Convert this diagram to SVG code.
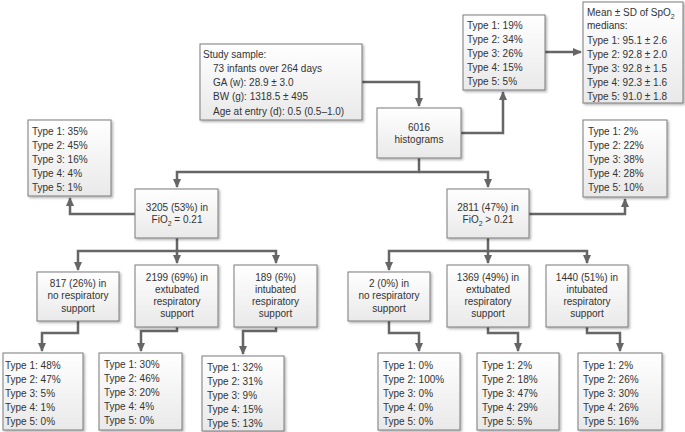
<svg xmlns="http://www.w3.org/2000/svg" width="685" height="432" viewBox="0 0 685 432">
<defs>
<linearGradient id="g" x1="0" y1="0" x2="0" y2="1">
<stop offset="0" stop-color="#ffffff"/>
<stop offset="1" stop-color="#e9e9e9"/>
</linearGradient>
<filter id="sh" x="-10%" y="-10%" width="130%" height="130%">
<feDropShadow dx="1.5" dy="1.5" stdDeviation="1" flood-color="#000" flood-opacity="0.3"/>
</filter>
<marker id="ar" markerUnits="userSpaceOnUse" markerWidth="9" markerHeight="9" refX="8" refY="4.5" orient="auto" viewBox="0 0 9 9">
<path d="M0,0.5 L9,4.5 L0,8.5 z" fill="#666"/>
</marker>
</defs>
<style>
.box{fill:url(#g);stroke:#7a7a7a;stroke-width:1;filter:url(#sh)}
text{font-family:"Liberation Sans",Arial,sans-serif;font-size:10px;fill:#333}
.c{text-anchor:middle}
.con path{fill:none;stroke:#666;stroke-width:2.5}
.sub{font-size:7px}
</style>
<g class="con" id="connectors">
<path d="M362,82 H419 V106" marker-end="url(#ar)"/>
<path d="M461,133 H503 V92" marker-end="url(#ar)"/>
<path d="M545,52 H581" marker-end="url(#ar)"/>
<path d="M419,158 V172 H177 V187" marker-end="url(#ar)"/>
<path d="M419,172 H488 V187" marker-end="url(#ar)"/>
<path d="M135,214 H70 V198" marker-end="url(#ar)"/>
<path d="M529,214 H625 V199" marker-end="url(#ar)"/>
<path d="M177,238 V251 H78 V270" marker-end="url(#ar)"/>
<path d="M177,251 V263" marker-end="url(#ar)"/>
<path d="M177,251 H276 V263" marker-end="url(#ar)"/>
<path d="M488,238 V251 H389 V270" marker-end="url(#ar)"/>
<path d="M488,251 V263" marker-end="url(#ar)"/>
<path d="M488,251 H587 V263" marker-end="url(#ar)"/>
<path d="M78,321 V333 H42 V351" marker-end="url(#ar)"/>
<path d="M177,327 V331 H141 V351" marker-end="url(#ar)"/>
<path d="M276,327 V331 H243 V354" marker-end="url(#ar)"/>
<path d="M389,321 V333 H419 V351" marker-end="url(#ar)"/>
<path d="M488,327 V333 H518 V351" marker-end="url(#ar)"/>
<path d="M587,327 V333 H620 V351" marker-end="url(#ar)"/>
</g>
<g id="study">
<rect class="box" x="200" y="44" width="162" height="76"/>
<text x="203" y="58">Study sample:</text>
<text x="213" y="72">73 infants over 264 days</text>
<text x="213" y="86">GA (w): 28.9 ± 3.0</text>
<text x="213" y="100">BW (g): 1318.5 ± 495</text>
<text x="213" y="115">Age at entry (d): 0.5 (0.5–1.0)</text>
</g>
<g id="hist">
<rect class="box" x="377" y="108" width="84" height="50"/>
<text class="c" x="419" y="131">6016</text>
<text class="c" x="419" y="143">histograms</text>
</g>
<g id="types-all">
<rect class="box" x="463" y="15" width="82" height="75"/>
<text x="467" y="29">Type 1: 19%</text>
<text x="467" y="43">Type 2: 34%</text>
<text x="467" y="57">Type 3: 26%</text>
<text x="467" y="71">Type 4: 15%</text>
<text x="467" y="85">Type 5: 5%</text>
</g>
<g id="means">
<rect class="box" x="583" y="2" width="100" height="101"/>
<text x="587" y="16">Mean ± SD of SpO<tspan class="sub" dy="2.5">2</tspan></text>
<text x="587" y="29">medians:</text>
<text x="587" y="44">Type 1: 95.1 ± 2.6</text>
<text x="587" y="58">Type 2: 92.8 ± 2.0</text>
<text x="587" y="72">Type 3: 92.8 ± 1.5</text>
<text x="587" y="86">Type 4: 92.3 ± 1.6</text>
<text x="587" y="100">Type 5: 91.0 ± 1.8</text>
</g>
<g id="types-air">
<rect class="box" x="28" y="120" width="83" height="76"/>
<text x="32" y="135">Type 1: 35%</text>
<text x="32" y="149">Type 2: 45%</text>
<text x="32" y="163">Type 3: 16%</text>
<text x="32" y="177">Type 4: 4%</text>
<text x="32" y="191">Type 5: 1%</text>
</g>
<g id="air">
<rect class="box" x="135" y="189" width="83" height="49"/>
<text class="c" x="177" y="211">3205 (53%) in</text>
<text class="c" x="177" y="223">FiO<tspan class="sub" dy="2.5">2</tspan><tspan dy="-2.5"> = 0.21</tspan></text>
</g>
<g id="oxy">
<rect class="box" x="447" y="189" width="82" height="49"/>
<text class="c" x="488" y="211">2811 (47%) in</text>
<text class="c" x="488" y="223">FiO<tspan class="sub" dy="2.5">2</tspan><tspan dy="-2.5"> &gt; 0.21</tspan></text>
</g>
<g id="types-oxy">
<rect class="box" x="583" y="120" width="84" height="77"/>
<text x="588" y="135">Type 1: 2%</text>
<text x="588" y="149">Type 2: 22%</text>
<text x="588" y="163">Type 3: 38%</text>
<text x="588" y="177">Type 4: 28%</text>
<text x="588" y="191">Type 5: 10%</text>
</g>
<g id="air-none">
<rect class="box" x="37" y="272" width="82" height="49"/>
<text class="c" x="78" y="286.5">817 (26%) in</text>
<text class="c" x="78" y="299">no respiratory</text>
<text class="c" x="78" y="311.5">support</text>
</g>
<g id="air-ext">
<rect class="box" x="135" y="265" width="83" height="62"/>
<text class="c" x="177" y="280.5">2199 (69%) in</text>
<text class="c" x="177" y="292.5">extubated</text>
<text class="c" x="177" y="304.5">respiratory</text>
<text class="c" x="177" y="316.5">support</text>
</g>
<g id="air-int">
<rect class="box" x="234" y="265" width="83" height="62"/>
<text class="c" x="275.5" y="280.5">189 (6%)</text>
<text class="c" x="275.5" y="292.5">intubated</text>
<text class="c" x="275.5" y="304.5">respiratory</text>
<text class="c" x="275.5" y="316.5">support</text>
</g>
<g id="oxy-none">
<rect class="box" x="348" y="272" width="82" height="49"/>
<text class="c" x="389" y="286.5">2 (0%) in</text>
<text class="c" x="389" y="299">no respiratory</text>
<text class="c" x="389" y="311.5">support</text>
</g>
<g id="oxy-ext">
<rect class="box" x="447" y="265" width="82" height="62"/>
<text class="c" x="488" y="280.5">1369 (49%) in</text>
<text class="c" x="488" y="292.5">extubated</text>
<text class="c" x="488" y="304.5">respiratory</text>
<text class="c" x="488" y="316.5">support</text>
</g>
<g id="oxy-int">
<rect class="box" x="546" y="265" width="82" height="62"/>
<text class="c" x="587" y="280.5">1440 (51%) in</text>
<text class="c" x="587" y="292.5">intubated</text>
<text class="c" x="587" y="304.5">respiratory</text>
<text class="c" x="587" y="316.5">support</text>
</g>
<g id="t-air-none">
<rect class="box" x="3" y="353" width="80" height="77"/>
<text x="5" y="369">Type 1: 48%</text>
<text x="5" y="383">Type 2: 47%</text>
<text x="5" y="397">Type 3: 5%</text>
<text x="5" y="411">Type 4: 1%</text>
<text x="5" y="425">Type 5: 0%</text>
</g>
<g id="t-air-ext">
<rect class="box" x="99" y="353" width="83" height="77"/>
<text x="104" y="368">Type 1: 30%</text>
<text x="104" y="382">Type 2: 46%</text>
<text x="104" y="396">Type 3: 20%</text>
<text x="104" y="410">Type 4: 4%</text>
<text x="104" y="424">Type 5: 0%</text>
</g>
<g id="t-air-int">
<rect class="box" x="202" y="356" width="82" height="75"/>
<text x="207" y="371">Type 1: 32%</text>
<text x="207" y="385">Type 2: 31%</text>
<text x="207" y="399">Type 3: 9%</text>
<text x="207" y="413">Type 4: 15%</text>
<text x="207" y="427">Type 5: 13%</text>
</g>
<g id="t-oxy-none">
<rect class="box" x="378" y="353" width="82" height="77"/>
<text x="383" y="369">Type 1: 0%</text>
<text x="383" y="383">Type 2: 100%</text>
<text x="383" y="397">Type 3: 0%</text>
<text x="383" y="411">Type 4: 0%</text>
<text x="383" y="425">Type 5: 0%</text>
</g>
<g id="t-oxy-ext">
<rect class="box" x="477" y="353" width="82" height="77"/>
<text x="482" y="369">Type 1: 2%</text>
<text x="482" y="383">Type 2: 18%</text>
<text x="482" y="397">Type 3: 47%</text>
<text x="482" y="411">Type 4: 29%</text>
<text x="482" y="425">Type 5: 5%</text>
</g>
<g id="t-oxy-int">
<rect class="box" x="578" y="353" width="84" height="77"/>
<text x="583" y="369">Type 1: 2%</text>
<text x="583" y="383">Type 2: 26%</text>
<text x="583" y="397">Type 3: 30%</text>
<text x="583" y="411">Type 4: 26%</text>
<text x="583" y="425">Type 5: 16%</text>
</g>
</svg>
